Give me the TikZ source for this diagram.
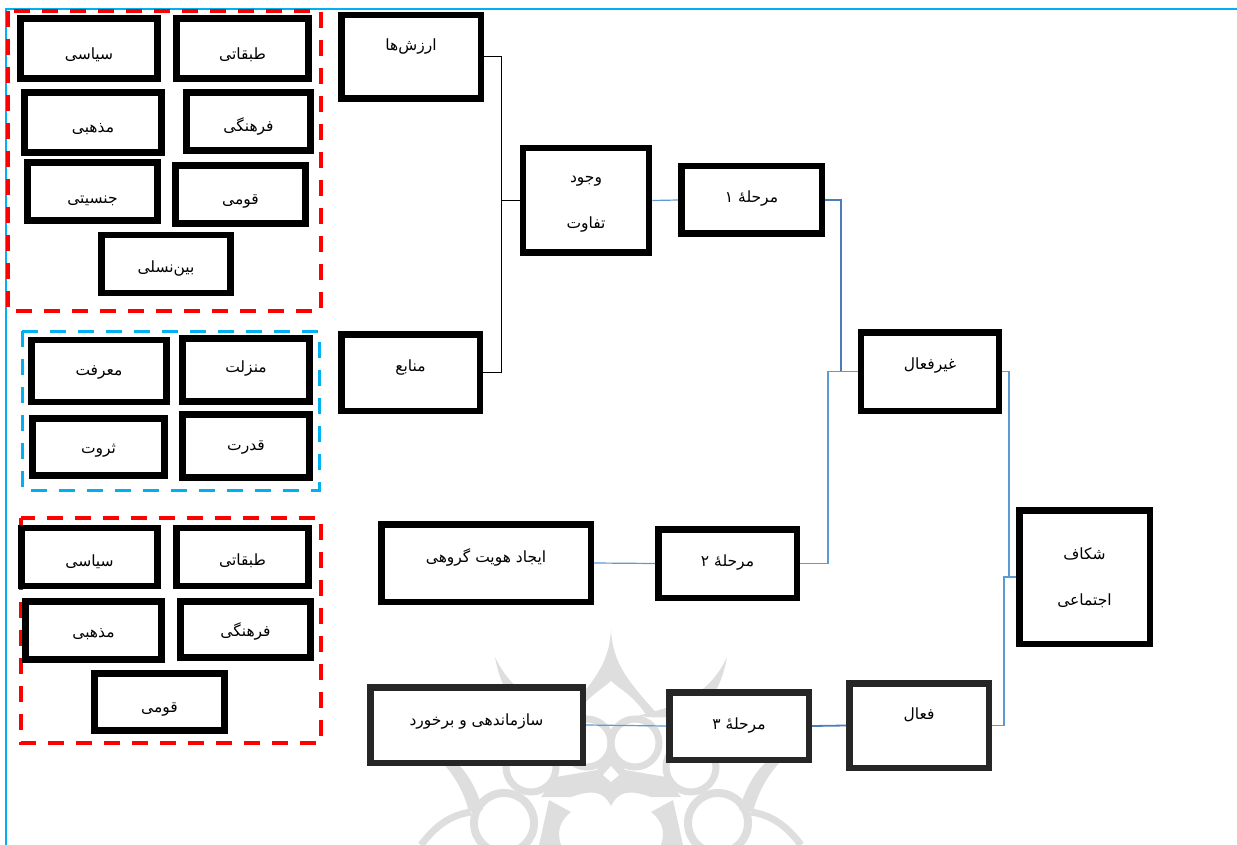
\documentclass[tikz,border=0pt]{standalone}
\usepackage{fontspec}
\newfontfamily\arabicfont[Script=Arabic]{DejaVu Sans}
\TeXXeTstate=1
\newcommand{\fa}[2][0]{\raisebox{\dimexpr#1pt-5pt\relax}[8pt][8pt]{\arabicfont\beginR #2\endR}}
\definecolor{framered}{HTML}{FF0000}
\definecolor{frameblue}{HTML}{00B0F0}
\definecolor{linkblue}{HTML}{5B9BD5}
\definecolor{linkdark}{HTML}{4A7EBB}
\definecolor{markgray}{HTML}{DEDEDE}
\tikzset{
  box/.style={draw=black, line width=6.5pt, fill=white, inner sep=0pt, font=\fontsize{15.5}{16}\selectfont},
  boxfaded/.style={box, draw=black!85},
  redframe/.style={draw=framered, line width=4pt, dash pattern=on 16pt off 12pt},
  blueframe/.style={draw=frameblue, line width=3pt, dash pattern=on 16pt off 12pt},
  blackline/.style={draw=black, line width=1pt},
  link/.style={draw=linkblue, line width=1.2pt},
  linkthick/.style={draw=linkdark, line width=1.8pt}
}
\begin{document}
\begin{tikzpicture}[x=1pt, y=-1pt]
\useasboundingbox (0,0) rectangle (1237,845);

% Page rules
\coordinate (pagetl) at (6,9);
\coordinate (pagetr) at (1237,9);
\coordinate (pagebl) at (6,845);
\draw[frameblue, line width=1.6pt] (pagetr) -- (pagetl) -- (pagebl);

% Watermark, one half and its mirror
\foreach \s in {1,-1}
{
\begin{scope}[xshift=611pt, xscale=\s]
    \fill[markgray] (0,630) .. controls (-2,665) and (-18,682) .. (-48,716) -- (-36,716) .. controls (-22,695) and (-10,690) .. (0,681) -- cycle;
    \fill[markgray] (-116,657) .. controls (-98,695) and (-70,705) .. (-26,716) .. controls (-65,720) and (-105,720) .. (-116,657) -- cycle;
    \fill[markgray] (-200,738) .. controls (-160,750) and (-140,770) .. (-128,810) -- (-142,812) .. controls (-150,780) and (-170,755) .. (-200,738) -- cycle;
    \draw[markgray, line width=8pt] (-107,823) circle (30pt);
    \draw[markgray, line width=7pt] (-80,767) circle (25pt);
    \draw[markgray, line width=7pt] (-24,743) circle (24pt);
    \draw[markgray, line width=7pt] (-190,845) .. controls (-175,825) and (-160,815) .. (-140,812);
    \fill[markgray] (0,748) -- (-14,770) -- (-55,777) -- (-70,797) -- (-40,797) .. controls (-20,790) and (-8,790) .. (0,806) -- cycle;
    \fill[markgray] (-40,812) -- (-62,800) -- (-72,845) -- (-50,845) .. controls (-55,830) and (-50,820) .. (-40,812) -- cycle;
\end{scope}
}
\fill[white] (611,766) -- (603,775) -- (611,782) -- (619,775) -- cycle;

% Dashed frames
\draw[redframe] (8,11) rectangle (321,311);
\draw[blueframe] (22,331) rectangle (319,490);
\draw[redframe] (21,518) rectangle (321,743);

% Left column boxes
\foreach \n/\cx/\cy/\w/\h/\dy/\txt in {
    a/242.5/48.5/132/60/-6/طبقاتی,
    b/89/48.5/137/60/-6/سیاسی,
    c/93/122.5/137/60/-5/مذهبی,
    d/248.5/121.5/124/58/-5/فرهنگی,
    e/92.5/191.5/130/58/-7/جنسیتی,
    f/240.5/194.5/130/58/-5/قومی,
    g/166/264/129/58/-4/بین‌نسلی,
    h/99/371/135/62/1/معرفت,
    i/246/370/127/63/3/منزلت,
    j/98.5/447/132/57/-1/ثروت,
    k/246/446/127/63/1/قدرت,
    l/89.5/557/136/58/-4/سیاسی,
    m/242.5/557/132/58/-3/طبقاتی,
    n/93.5/630.5/136/58/-2/مذهبی,
    o/245.5/629.5/130/56/-2/فرهنگی,
    p/159.5/702/130/57/-5/قومی}
    \node[box, minimum width=\w pt, minimum height=\h pt] (tag\n) at (\cx,\cy) {\fa[\dy]{\txt}};

% Main boxes
\node[box, minimum width=139.5pt, minimum height=83.5pt] (values) at (411,57) {\fa[11]{ارزش‌ها}};
\node[box, minimum width=138.5pt, minimum height=76.5pt] (resources) at (410.5,372.5) {\fa[6]{منابع}};
\node[box, minimum width=126pt, minimum height=104.5pt, align=center] (gap) at (586,200.5) {\fa{وجود}\\[30pt]\fa{تفاوت}};
\node[box, minimum width=140.5pt, minimum height=67.5pt] (stageone) at (751.5,200) {\fa[2]{مرحلهٔ ۱}};
\node[box, minimum width=138pt, minimum height=78.5pt] (passive) at (930,371.5) {\fa[7]{غیرفعال}};
\node[box, minimum width=209.5pt, minimum height=77.5pt] (identity) at (486,563) {\fa[6]{ایجاد هویت گروهی}};
\node[box, minimum width=138.5pt, minimum height=68.5pt] (stagetwo) at (727.5,563.5) {\fa[2]{مرحلهٔ ۲}};
\node[box, minimum width=130.5pt, minimum height=133.5pt, align=center] (cleavage) at (1084.5,577) {\fa{شکاف}\\[30pt]\fa{اجتماعی}};
\node[boxfaded, minimum width=212.5pt, minimum height=75.5pt] (conflict) at (476.5,725) {\fa[5]{سازماندهی و برخورد}};
\node[boxfaded, minimum width=139.5pt, minimum height=67.5pt] (stagethree) at (739,726) {\fa[2]{مرحلهٔ ۳}};
\node[boxfaded, minimum width=139.5pt, minimum height=84.5pt] (active) at (919,725.5) {\fa[11]{فعال}};

% Junctions
\coordinate (joingap) at (501,200.5);
\coordinate (joinpassive) at (841,371.5);
\coordinate (joinpassiveb) at (828,371.5);
\coordinate (joinright) at (1009,577);
\coordinate (joinrightb) at (1004,577);

% Connectors
\draw[blackline] (values.east) -| (joingap);
\draw[blackline] (resources.east) -| (joingap);
\draw[blackline] (joingap) -- (gap.west);
\draw[link] (gap.east) -- (stageone.west);
\draw[linkthick] (stageone.east) -| (joinpassive) -- (passive.west);
\draw[link] (identity.east) -- (stagetwo.west);
\draw[link] (stagetwo.east) -| (joinpassiveb) -- (passive.west);
\draw[link] (passive.east) -| (joinright) -- (cleavage.west);
\draw[link] (conflict.east) -- (stagethree.west);
\draw[linkthick] (stagethree.east) -- (active.west);
\draw[link] (active.east) -| (joinrightb) -- (cleavage.west);

\end{tikzpicture}
\end{document}
